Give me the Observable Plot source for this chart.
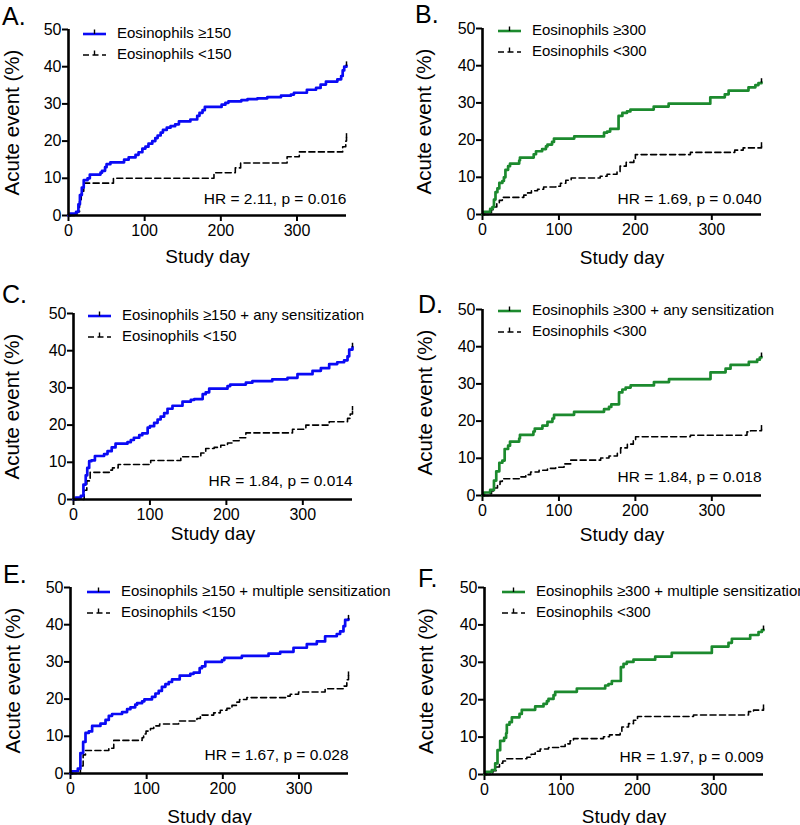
<!DOCTYPE html>
<html><head><meta charset="utf-8">
<script src="https://cdn.jsdelivr.net/npm/d3@7"></script>
<script src="https://cdn.jsdelivr.net/npm/@observablehq/plot@0.6"></script>
<style>
body{margin:0;background:#fff;}
#root{position:relative;width:800px;height:825px;overflow:hidden;font-family:"Liberation Sans",Arial,sans-serif;color:#000;}
.panel{position:absolute;width:400px;}
.panel svg{overflow:visible;}
.letter{position:absolute;font-size:25px;line-height:1;}
.legend{position:absolute;font-size:15px;white-space:nowrap;}
.legend .row{height:21px;display:flex;align-items:center;}
.legend svg{margin-right:11px;flex:none;}
</style></head>
<body><div id="root"></div>
<script>
// ---- data (day, cumulative % with acute event) ----
const panelLetters = ["A.", "B.", "C.", "D.", "E.", "F."];
const highLabels = ["Eosinophils \u2265150", "Eosinophils \u2265300",
  "Eosinophils \u2265150 + any sensitization", "Eosinophils \u2265300 + any sensitization",
  "Eosinophils \u2265150 + multiple sensitization", "Eosinophils \u2265300 + multiple sensitization"];
const lowLabels = ["Eosinophils <150", "Eosinophils <300", "Eosinophils <150", "Eosinophils <300", "Eosinophils <150", "Eosinophils <300"];
const hrLabels = ["HR = 2.11, p = 0.016", "HR = 1.69, p = 0.040", "HR = 1.84, p = 0.014",
  "HR = 1.84, p = 0.018", "HR = 1.67, p = 0.028", "HR = 1.97, p = 0.009"];
const xTicks = [0, 100, 200, 300];
const yTicks = [0, 10, 20, 30, 40, 50];

const aHigh = [[0,0],[2,0.5],[10,1],[13,3],[15,5.5],[17.5,7.5],[20,9.5],[25,10],[28,11],[42,11.5],[44,12],[48,13],[50,13.8],[55,14.3],[73,15],[79,15.6],[88,16.3],[92,17],[97,18],[101,18.5],[105,19.3],[110,20],[114,20.8],[117,21.5],[121,22.3],[124,23],[129,23.6],[134,24],[140,24.5],[145,25.3],[160,25.8],[169,26.8],[172,27.6],[176,28.3],[179,29.2],[201,29.8],[206,30.3],[210,30.7],[227,31],[235,31.3],[248,31.5],[261,31.8],[279,32.2],[292,32.5],[296,33],[313,33.8],[325,34.3],[331,35.2],[338,36],[353,36.6],[358,37.5],[360,39],[362,40],[365,40.3]];
const aLow = [[0,0],[10,0],[11,1],[14.5,4],[16.7,6.5],[20,8.7],[59,10],[191,11.5],[219,12.8],[226,14.1],[287,15.8],[303,17.1],[360,18.5],[364,20],[365,21]];
const bHigh = [[0,0],[2,0.7],[10,1.5],[13,2],[15,4],[17,6],[19.5,7],[22,8.5],[26,9],[28,10],[30,12],[33.5,13],[36,13.7],[48,14.5],[49,15.3],[67,16.2],[70,17],[78,17.6],[83,18.3],[85,18.8],[91,19.5],[93.5,20.4],[120,21],[159,22],[163,22.3],[167,23],[178,26.5],[183,27.3],[189,27.7],[193.5,28.2],[224,29],[243.5,29.8],[298,31.5],[317,32.3],[322,33.3],[348,34.2],[357,34.8],[361,35.3],[365,35.5]];
const bLow = [[0,0],[8.7,0.5],[11.7,1.3],[15,2],[18.7,3],[22,3.8],[26,4.6],[54,5.2],[59,5.8],[64,6.4],[72,6.8],[80,7.4],[96,7.6],[102,8.4],[109,9.2],[116,9.8],[154,10.3],[163,10.8],[176,11.5],[180,13],[188,14],[198,14.8],[200,16.1],[272,16.7],[330,17.3],[341,17.9],[365,18.3]];
const cHigh = [[0,0],[3,0.5],[9.6,1],[13,4],[16,6.5],[18,8.5],[20.5,10.3],[23.5,10.5],[28,11.7],[40,12.2],[44.5,13],[50,14],[55,15],[70.6,15.4],[75,16],[79,16.6],[86,17.3],[90,17.8],[97,19.3],[100,19.7],[105.5,20.6],[110,21.5],[114,22.3],[118.6,23.2],[123,24.4],[129.5,25.2],[142.6,26.3],[153.5,26.8],[158,27],[169,28.3],[173,28.8],[177.5,29.8],[201.5,30.5],[205,30.9],[225.5,31.4],[234,31.8],[260,32.3],[280,32.7],[293,33.7],[312.7,34.6],[323.6,35.3],[334.5,36.4],[345,36.9],[354,37.4],[358.5,38.5],[360.7,40.3],[365,41]];
const cLow = [[0,0],[11,0],[14,2.5],[17.4,5],[21.8,7.3],[48.8,7.9],[51,8.5],[58.4,9.4],[101,10.5],[140.4,11.5],[166.6,12.5],[173,13.7],[184,14],[192.7,14.6],[201.5,15.2],[208,15.8],[216.7,16.6],[225.5,17.9],[286.5,18.9],[304,20],[334.5,20.9],[358.5,21.8],[362,23],[365,24]];
const dHigh = [[0,0],[2,0.8],[10,1.5],[15,4],[18,6.5],[22,8.8],[26,9.4],[29,12.5],[33.5,13.4],[36,14.5],[48,15.3],[49,16.3],[66.6,17.2],[68.4,18],[78.4,18.8],[85,19.8],[91.5,20.7],[93.6,21.7],[119.8,22.5],[159,23.2],[165.5,23.8],[168.5,24.5],[178.6,27.7],[183,28.5],[187.3,29],[193.8,29.6],[224.3,30.5],[244,31.3],[298.3,33.1],[318,34.1],[324.5,35.1],[348.4,35.9],[359.3,36.5],[362.8,37.1],[365,37.3]];
const dLow = [[0,0],[8.7,0.5],[11.8,1.2],[15,2],[19.6,3],[23,3.8],[26,4.5],[50,5],[56.6,5.6],[63,6.3],[74,6.8],[85,7.3],[95.8,7.6],[106.7,8.5],[115.4,9.5],[154.6,10.1],[165.5,10.6],[176.4,11.4],[180.7,12.8],[189.5,13.8],[197.3,14.7],[200.3,15.8],[272,16.2],[346,17.1],[350.6,17.4],[365,17.8]];
const eHigh = [[0,0],[2,0.6],[9.6,1.3],[13,5.5],[16.6,8.5],[19.7,10.9],[24,11.3],[28.4,12.8],[39.3,13.4],[46,14.4],[50.3,15.5],[54.6,16],[67.7,16.5],[74.3,17.3],[78.7,17.8],[85,18.5],[87.4,18.9],[94,19.4],[97,19.9],[107,20.6],[111.5,21.5],[115.8,22.2],[120,23.3],[124.6,24],[129,24.6],[133.3,25.3],[143.4,26.3],[157.3,26.8],[161.7,27.1],[169.6,28.3],[172.6,28.8],[177,30],[198.9,30.5],[202,31.1],[225,31.6],[260,32.2],[275.3,32.7],[292.8,33.8],[310.3,34.8],[323.4,35.5],[334.3,36.9],[349.6,37.5],[354,38.2],[358.4,39.6],[360.6,41.3],[365,41.5]];
const eLow = [[0,0],[9.6,0],[13,2],[16.6,5],[19.7,6.2],[50.3,6.8],[56.8,8.9],[94,9.6],[96,10.6],[99.2,11.4],[105,12.1],[109.3,12.8],[117,13.3],[142,14.1],[166,14.8],[170.5,15.7],[188,16.3],[196.7,17],[205.4,17.5],[212,18.3],[218.5,19.2],[222,19.9],[231.6,20.4],[284,20.8],[288.5,21.3],[299.4,21.9],[334.3,22.8],[358.4,23.5],[362.8,25.2],[365,26.3]];
const fHigh = [[0,0],[2,0.7],[9.6,1.2],[14,3],[17,6.5],[20.5,9],[25.7,9.8],[28.3,11],[29.2,13.3],[32.7,14],[35.8,15.3],[45.8,16.2],[48.8,17.3],[66.3,18.2],[77.2,18.9],[81.6,19.6],[83.7,20.2],[90.3,21.2],[92.5,22.1],[120.8,23],[157.9,23.8],[162.2,24.2],[166.6,25],[178.4,28.7],[181.9,29.6],[186.2,30.1],[194.9,30.7],[223.3,31.5],[245,32.5],[297.4,34.2],[319.2,35.2],[323.6,36.3],[347.6,37.3],[358.5,38.1],[362.8,38.6],[365,38.7]];
const fLow = [[0,0],[7.4,0.4],[10.9,1],[15.3,2],[19.6,3],[24,3.6],[28.3,4.2],[55.4,4.6],[61,5.4],[66.3,6.2],[72.8,6.8],[83.7,7.2],[99,7.5],[105.5,8.2],[112,9],[116.4,9.6],[155.7,10.1],[163.5,10.6],[177.5,11.5],[179.7,12.7],[188.4,13.6],[194.9,14.5],[200.2,15.5],[273.4,15.9],[345.4,16.8],[352,17.2],[365,17.6]];

const highSeries = [aHigh, bHigh, cHigh, dHigh, eHigh, fHigh];
const lowSeries = [aLow, bLow, cLow, dLow, eLow, fLow];

// ---- styling / layout ----
const BLUE = "#0a0af5", GREEN = "#1c8a2e";
const highColors = [BLUE, GREEN, BLUE, GREEN, BLUE, GREEN];
const layout = [
  {left:0,   top:0,   h:270, mL:68, mR:54, mT:29, mB:55, xLab:47, yLab:64, letter:[2,4],   legend:[83,22],  hrY:3.0},
  {left:400, top:0,   h:270, mL:82, mR:39, mT:28, mB:56, xLab:49, yLab:66, letter:[415,2], legend:[498,19], hrY:2.7},
  {left:0,   top:270, h:280, mL:73, mR:48, mT:43, mB:51, xLab:40, yLab:69, letter:[2,282], legend:[88,304], hrY:3.6},
  {left:400, top:270, h:280, mL:82, mR:39, mT:39, mB:55, xLab:45, yLab:65, letter:[418,292],legend:[498,299],hrY:3.6},
  {left:0,   top:550, h:275, mL:70, mR:52, mT:37, mB:52, xLab:49, yLab:65, letter:[3,562], legend:[87,580], hrY:3.6},
  {left:400, top:550, h:275, mL:84, mR:37, mT:37, mB:51, xLab:48, yLab:66, letter:[418,566],legend:[502,580],hrY:3.3}
];

const root = document.getElementById("root");
const FONT = '"Liberation Sans", Arial, sans-serif';

function legendSample(color, dashed) {
  const ns = "http://www.w3.org/2000/svg";
  const s = document.createElementNS(ns, "svg");
  s.setAttribute("width", 23); s.setAttribute("height", 12);
  const l = document.createElementNS(ns, "line");
  l.setAttribute("x1", 0); l.setAttribute("x2", 23); l.setAttribute("y1", 7); l.setAttribute("y2", 7);
  l.setAttribute("stroke", color);
  l.setAttribute("stroke-width", dashed ? 1.6 : 2.6);
  if (dashed) l.setAttribute("stroke-dasharray", "6,3.5");
  s.appendChild(l);
  const t = document.createElementNS(ns, "line");
  t.setAttribute("x1", 11.5); t.setAttribute("x2", 11.5); t.setAttribute("y1", 2.5); t.setAttribute("y2", 7);
  t.setAttribute("stroke", "#000"); t.setAttribute("stroke-width", 1.4);
  s.appendChild(t);
  return s;
}

panelLetters.forEach((letter, i) => {
  const L = layout[i];
  const high = highSeries[i], low = lowSeries[i];
  const color = highColors[i];
  const lastHigh = [high[high.length - 1]], lastLow = [low[low.length - 1]];
  const chart = Plot.plot({
    width: 400, height: L.h,
    marginLeft: L.mL, marginRight: L.mR, marginTop: L.mT, marginBottom: L.mB,
    style: {fontFamily: FONT, color: "#000", background: "transparent"},
    x: {domain: [0, 365]},
    y: {domain: [0, 50]},
    marks: [
      Plot.axisY({ticks: yTicks, tickSize: 6, tickPadding: 1, strokeWidth: 2, fontSize: 16, label: null, tickFormat: d => d}),
      Plot.axisX({ticks: xTicks, tickSize: 6, tickPadding: 3, strokeWidth: 2, fontSize: 16, label: null, tickFormat: d => d}),
      Plot.line(low, {x: d => d[0], y: d => d[1], curve: "step-after", stroke: "#000", strokeWidth: 1.6, strokeDasharray: "6,3.5"}),
      Plot.line(high, {x: d => d[0], y: d => d[1], curve: "step-after", stroke: color, strokeWidth: 2.7}),
      Plot.ruleX(lastLow, {x: d => d[0], y1: d => d[1] - 0.2, y2: d => d[1] + 1.0, stroke: "#000", strokeWidth: 1.5}),
      Plot.ruleX(lastHigh, {x: d => d[0], y1: d => d[1] - 0.2, y2: d => d[1] + 1.0, stroke: "#000", strokeWidth: 1.5}),
      Plot.ruleX([0], {stroke: "#000", strokeWidth: 2.6}),
      Plot.ruleY([0], {stroke: "#000", strokeWidth: 2.6}),
      Plot.text([hrLabels[i]], {x: 365, y: L.hrY, text: d => d, textAnchor: "end", lineAnchor: "bottom", fontSize: 15.5, fill: "#000"}),
      Plot.text(["Study day"], {frameAnchor: "bottom", dy: L.xLab, lineAnchor: "bottom", textAnchor: "middle", fontSize: 19, fill: "#000"}),
      Plot.text(["Acute event (%)"], {frameAnchor: "left", rotate: -90, dx: -L.yLab, lineAnchor: "top", textAnchor: "middle", fontSize: 20.5, fill: "#000"})
    ]
  });
  const wrap = document.createElement("div");
  wrap.className = "panel";
  wrap.style.left = L.left + "px"; wrap.style.top = L.top + "px";
  wrap.appendChild(chart);
  root.appendChild(wrap);

  const lt = document.createElement("div");
  lt.className = "letter";
  lt.textContent = letter;
  lt.style.left = L.letter[0] + "px"; lt.style.top = L.letter[1] + "px";
  root.appendChild(lt);

  const lg = document.createElement("div");
  lg.className = "legend";
  lg.style.left = L.legend[0] + "px"; lg.style.top = L.legend[1] + "px";
  [[color, false, highLabels[i]], ["#000", true, lowLabels[i]]].forEach(([c, dashed, txt]) => {
    const row = document.createElement("div");
    row.className = "row";
    row.appendChild(legendSample(c, dashed));
    const sp = document.createElement("span");
    sp.textContent = txt;
    row.appendChild(sp);
    lg.appendChild(row);
  });
  root.appendChild(lg);
});
</script>
</body></html>
